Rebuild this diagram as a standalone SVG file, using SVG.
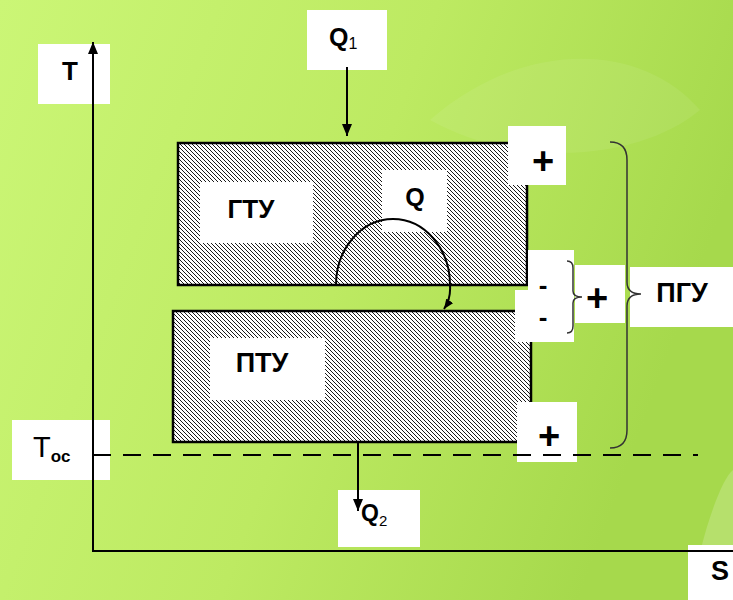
<svg xmlns="http://www.w3.org/2000/svg" width="733" height="600" viewBox="0 0 733 600">
<defs>
<linearGradient id="bg" x1="0" y1="0" x2="1" y2="0.3">
<stop offset="0" stop-color="#cbf676"/>
<stop offset="0.55" stop-color="#bdea62"/>
<stop offset="1" stop-color="#a6d94c"/>
</linearGradient>
<pattern id="hatch" width="4" height="4" patternUnits="userSpaceOnUse">
<rect width="4" height="4" fill="#fff"/>
<path d="M-1,-1 L5,5 M-1,3 L1,5 M3,-1 L5,1" stroke="#000" stroke-width="0.9"/>
</pattern>
<marker id="ah" viewBox="0 0 12 10" refX="12" refY="5" markerWidth="12" markerHeight="10" markerUnits="userSpaceOnUse" orient="auto">
<path d="M0,0 L12,5 L0,10 z" fill="#000"/>
</marker>
<marker id="ahs" viewBox="0 0 12 10" refX="12" refY="5" markerWidth="10" markerHeight="9" markerUnits="userSpaceOnUse" orient="auto">
<path d="M0,0 L12,5 L0,10 z" fill="#000"/>
</marker>
</defs>
<style>
.box{fill:#fff}
.unit{fill:url(#hatch);stroke:#000;stroke-width:2.5}
.b{font-family:"Liberation Sans",Arial,sans-serif;font-weight:bold;fill:#000}
.r{font-family:"Liberation Sans",Arial,sans-serif;font-weight:normal;fill:#000}
.ln{stroke:#000;stroke-width:2;fill:none}
.br{stroke:#333;stroke-width:1.5;fill:none}
</style>
<rect width="733" height="600" fill="url(#bg)"/>
<path d="M690,600 C700,540 720,480 733,470 L733,600 Z" fill="#fff" opacity="0.18"/>
<path d="M430,120 C520,40 640,40 700,110 C640,160 520,170 430,120 Z" fill="#fff" opacity="0.07"/>

<g id="node-T">
<rect class="box" x="38" y="44" width="72" height="60"/>
<text class="b" x="70" y="80" font-size="26" text-anchor="middle">T</text>
</g>
<g id="node-S">
<rect class="box" x="688" y="545" width="45" height="55"/>
<text class="b" x="720" y="580" font-size="27" text-anchor="middle">S</text>
</g>
<g id="node-Toc">
<rect class="box" x="12" y="420" width="98" height="60"/>
<text class="r" x="33" y="457" font-size="29">T<tspan class="b" font-size="17" dy="5">oc</tspan></text>
</g>
<g id="node-Q1">
<rect class="box" x="307" y="10" width="80" height="60"/>
<text class="b" x="329" y="46" font-size="25">Q<tspan class="r" font-size="16" dy="3">1</tspan></text>
</g>
<g id="node-Q2">
<rect class="box" x="338" y="490" width="82" height="57"/>
<text class="b" x="361" y="521" font-size="23">Q<tspan class="r" font-size="15" dy="5">2</tspan></text>
</g>
<g id="node-GTU">
<rect class="unit" x="178" y="143" width="349" height="142"/>
<rect class="box" x="200" y="182" width="113" height="61"/>
<text class="b" x="251" y="218" font-size="26" text-anchor="middle">ГТУ</text>
<rect class="box" x="382" y="170" width="65" height="62"/>
<text class="b" x="415" y="206" font-size="25" text-anchor="middle">Q</text>
</g>
<g id="node-PTU">
<rect class="unit" x="173" y="311" width="358" height="131"/>
<rect class="box" x="210" y="338" width="115" height="62"/>
<text class="b" x="262" y="372" font-size="27" text-anchor="middle">ПТУ</text>
</g>
<g id="node-plus-top">
<rect class="box" x="508" y="126" width="58" height="59"/>
<text class="b" x="543" y="174" font-size="38" text-anchor="middle">+</text>
</g>
<g id="node-minus">
<rect class="box" x="528" y="250" width="46" height="40"/>
<rect class="box" x="515" y="290" width="59" height="52"/>
<text class="b" x="543" y="294" font-size="26" text-anchor="middle">-</text>
<text class="b" x="543" y="326" font-size="26" text-anchor="middle">-</text>
</g>
<g id="node-plus-mid">
<rect class="box" x="575" y="265" width="50" height="58"/>
<text class="b" x="597" y="311" font-size="38" text-anchor="middle">+</text>
</g>
<g id="node-plus-bot">
<rect class="box" x="517" y="402" width="60" height="60"/>
<text class="b" x="549" y="449" font-size="38" text-anchor="middle">+</text>
</g>
<g id="node-PGU">
<rect class="box" x="630" y="267" width="103" height="60"/>
<text class="b" x="682" y="302" font-size="27" text-anchor="middle">ПГУ</text>
</g>

<g id="connectors">
<line class="ln" x1="93" y1="551" x2="93" y2="42" marker-end="url(#ah)"/>
<line class="ln" x1="92" y1="551" x2="733" y2="551"/>
<line class="ln" x1="93" y1="455" x2="698" y2="455" stroke-dasharray="18,12"/>
<line class="ln" x1="347" y1="67" x2="347" y2="136" marker-end="url(#ah)"/>
<line class="ln" x1="358" y1="442" x2="358" y2="511" marker-end="url(#ah)"/>
<path class="ln" stroke-width="1.8" d="M336,285 A57,66 0 0 1 450,285 Q451,299 444,309" marker-end="url(#ahs)"/>
<path class="br" d="M567,261 Q573,261 573,268 L573,291 Q573,297 582,297 Q573,297 573,303 L573,326 Q573,333 567,333"/>
<path class="br" d="M610,142 Q627,142 627,160 L627,282 Q627,294 641,294 Q627,294 627,306 L627,430 Q627,448 610,448"/>
</g>
</svg>
